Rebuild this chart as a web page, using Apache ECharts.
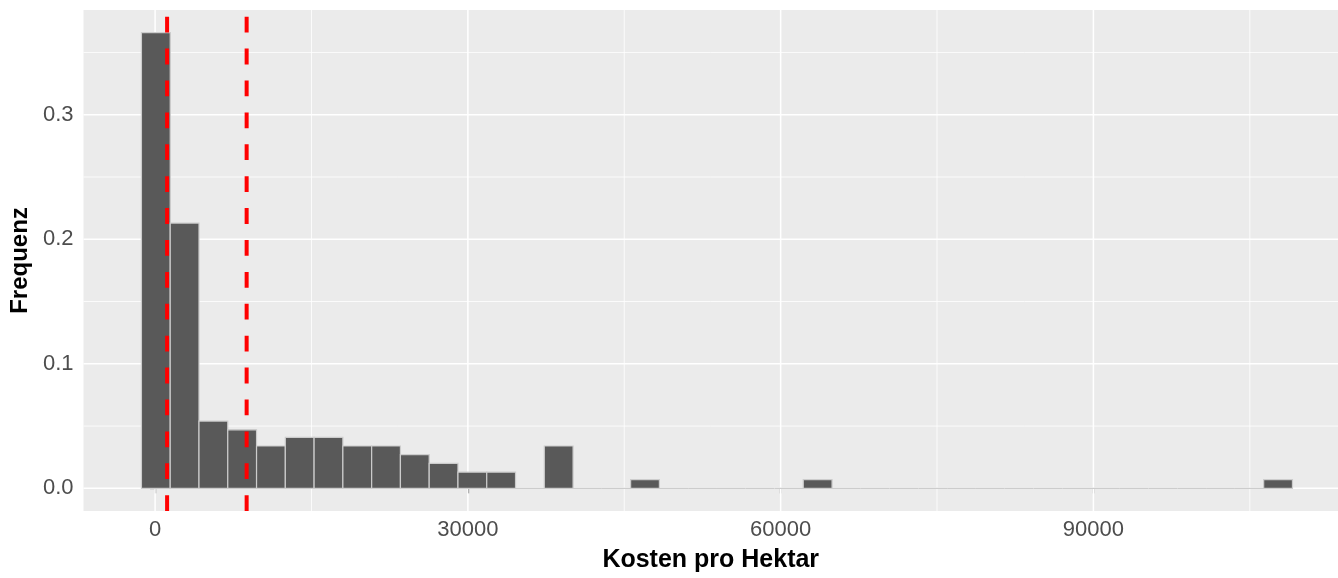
<!DOCTYPE html>
<html>
<head>
<meta charset="utf-8">
<script src="https://cdn.jsdelivr.net/npm/echarts@6/dist/echarts.min.js"></script>
<style>
  html, body { margin: 0; padding: 0; background: #fff; }
  #chart { width: 1338px; height: 578px; }
</style>
</head>
<body>
<div id="chart"></div>
<script>
// histogram bins (Kosten pro Hektar), left edge of the first bin and bin width
const binStart = -1310;
const binWidth = 2760;
const freq = [
  0.366, 0.213, 0.054, 0.047, 0.034, 0.041, 0.041, 0.034, 0.034, 0.027,
  0.020, 0.013, 0.013, 0, 0.034, 0, 0, 0.007, 0, 0,
  0, 0, 0, 0.007, 0, 0, 0, 0, 0, 0,
  0, 0, 0, 0, 0, 0, 0, 0, 0, 0.007
];
// dashed reference lines
const refLines = [1150, 8780];

const xTicks = [0, 30000, 60000, 90000];
const xMinor = [15000, 45000, 75000, 105000];
const yTicks = [0, 0.1, 0.2, 0.3];
const yMinor = [0.05, 0.15, 0.25, 0.35];

const X_MIN = -6870, X_MAX = 113460;
const Y_MIN = -0.0182, Y_MAX = 0.3841;

const FONT = "Liberation Sans";

const barData = freq.map((f, i) => [binStart + i * binWidth, binStart + (i + 1) * binWidth, f]);

const gridData = [];
xMinor.forEach(v => gridData.push([v, 0, 0]));
yMinor.forEach(v => gridData.push([v, 1, 0]));
xTicks.forEach(v => gridData.push([v, 0, 1]));
yTicks.forEach(v => gridData.push([v, 1, 1]));

const chart = echarts.init(document.getElementById("chart"), null, { renderer: "canvas" });

chart.setOption({
  animation: false,
  backgroundColor: "#ffffff",
  grid: {
    left: 82,
    right: 0,
    top: 10,
    bottom: 61,
    show: true,
    backgroundColor: "#EBEBEB",
    borderWidth: 0
  },
  xAxis: {
    type: "value",
    min: X_MIN,
    max: X_MAX,
    name: "Kosten pro Hektar",
    nameLocation: "middle",
    nameGap: 37,
    nameTextStyle: { fontFamily: FONT, fontSize: 25, fontWeight: "bold", color: "#000" },
    axisLine: { show: false },
    splitLine: { show: false },
    axisTick: {
      show: true,
      length: 5,
      customValues: xTicks,
      lineStyle: { color: "#333333", width: 1.2 }
    },
    axisLabel: {
      customValues: xTicks,
      margin: 8,
      fontFamily: FONT,
      fontSize: 22,
      color: "#4D4D4D",
      formatter: v => String(v)
    }
  },
  yAxis: {
    type: "value",
    min: Y_MIN,
    max: Y_MAX,
    name: "Frequenz",
    nameLocation: "middle",
    nameGap: 46,
    nameRotate: 90,
    nameTextStyle: { fontFamily: FONT, fontSize: 24, fontWeight: "bold", color: "#000" },
    axisLine: { show: false },
    splitLine: { show: false },
    axisTick: {
      show: true,
      length: 5,
      customValues: yTicks,
      lineStyle: { color: "#333333", width: 1.2 }
    },
    axisLabel: {
      customValues: yTicks,
      margin: 10,
      fontFamily: FONT,
      fontSize: 22,
      color: "#4D4D4D",
      formatter: v => v.toFixed(1)
    }
  },
  series: [
    {
      name: "grid",
      type: "custom",
      z: 1,
      silent: true,
      data: gridData,
      renderItem: (params, api) => {
        const v = api.value(0);
        const isY = api.value(1) === 1;
        const major = api.value(2) === 1;
        const p0 = isY ? api.coord([X_MIN, v]) : api.coord([v, Y_MIN]);
        const p1 = isY ? api.coord([X_MAX, v]) : api.coord([v, Y_MAX]);
        return {
          type: "line",
          shape: { x1: p0[0], y1: p0[1], x2: p1[0], y2: p1[1] },
          style: { stroke: "#ffffff", lineWidth: major ? 1.5 : 0.8 }
        };
      }
    },
    {
      name: "Frequenz",
      type: "custom",
      z: 2,
      data: barData,
      renderItem: (params, api) => {
        const a = api.coord([api.value(0), api.value(2)]);
        const b = api.coord([api.value(1), 0]);
        return {
          type: "rect",
          shape: { x: a[0], y: a[1], width: b[0] - a[0], height: b[1] - a[1] },
          style: { fill: "#595959", stroke: "#CCCCCC", lineWidth: 1.2 }
        };
      }
    },
    {
      name: "ref",
      type: "custom",
      z: 3,
      silent: true,
      data: refLines.map(v => [v]),
      renderItem: (params, api) => {
        const v = api.value(0);
        const p0 = api.coord([v, Y_MIN]);
        const p1 = api.coord([v, Y_MAX]);
        return {
          type: "line",
          shape: { x1: p0[0], y1: p0[1], x2: p1[0], y2: p1[1] },
          style: { stroke: "#FF0000", lineWidth: 4, lineDash: [15.8, 16.1], lineCap: "butt" }
        };
      }
    }
  ]
});
</script>
</body>
</html>
